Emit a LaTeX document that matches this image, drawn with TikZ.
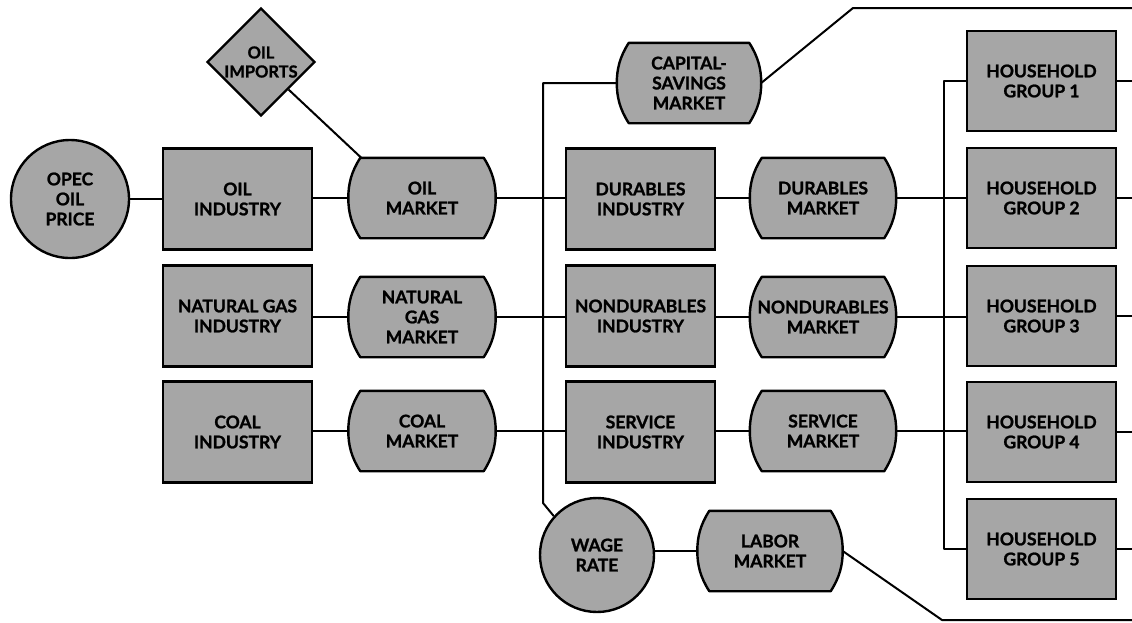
\documentclass[tikz,border=0pt]{standalone}
\usepackage{fontspec}
\setmainfont{Lato}[BoldFeatures={FakeBold=1.2}]
\usetikzlibrary{shapes.geometric,calc,backgrounds}
\newcommand\lbl{\fontsize{17.5}{20}\selectfont\bfseries}
\newcommand\lbls{\fontsize{16.5}{19}\selectfont\bfseries}
\tikzset{
  x=1pt, y=1pt,
  shfill/.style={fill=black!35},
  boxst/.style={draw, line width=2.4pt, shfill, minimum width=149pt, minimum height=101pt, align=center, font=\lbl, inner sep=0pt},
  mktst/.style={minimum width=147pt, minimum height=80pt, align=center, font=\lbl, inner sep=0pt},
  mkshape/.style={draw, line width=2.4pt, shfill, line join=round},
  circst/.style={circle, draw, line width=2.4pt, shfill, align=center, font=\lbl, inner sep=0pt},
  diast/.style={diamond, draw, line width=2.4pt, shfill, align=center, font=\lbls, inner sep=-6pt, minimum width=108pt, minimum height=108pt},
  conn/.style={line width=2pt, line join=round}
}
\newcommand\mkt[1]{%
  \path[mkshape] ($(#1.north west)+(12,0)$) -- ($(#1.north east)+(-12,0)$)
   .. controls ($(#1.north east)+(-3,-14)$) and ($(#1.east)+(0,14)$) .. (#1.east)
   .. controls ($(#1.east)+(0,-14)$) and ($(#1.south east)+(-3,14)$) .. ($(#1.south east)+(-12,0)$)
   -- ($(#1.south west)+(12,0)$)
   .. controls ($(#1.south west)+(3,14)$) and ($(#1.west)+(0,-14)$) .. (#1.west)
   .. controls ($(#1.west)+(0,14)$) and ($(#1.north west)+(3,-14)$) .. ($(#1.north west)+(12,0)$) -- cycle;}
\begin{document}
\begin{tikzpicture}
\useasboundingbox (0,0) rectangle (1132,-622);
% left part
\node[circst, minimum size=118pt] (opec) at (70,-199) {OPEC\\OIL\\PRICE};
\node[diast] (imp) at (261,-62) {OIL\\IMPORTS};
\node[boxst] (oili) at (237.5,-199) {OIL\\INDUSTRY};
\node[boxst] (ngi) at (237.5,-316) {NATURAL GAS\\INDUSTRY};
\node[boxst] (coali) at (237.5,-432) {COAL\\INDUSTRY};
\node[mktst] (oilm) at (422,-198) {OIL\\MARKET};
\node[mktst] (ngm) at (422,-317) {NATURAL\\GAS\\MARKET};
\node[mktst] (coalm) at (422,-431) {COAL\\MARKET};
% middle part
\node[mktst, minimum width=144pt] (cap) at (689,-83) {CAPITAL-\\SAVINGS\\MARKET};
\node[boxst] (dui) at (640.5,-199) {DURABLES\\INDUSTRY};
\node[boxst] (ndi) at (640.5,-316) {NONDURABLES\\INDUSTRY};
\node[boxst] (svi) at (640.5,-432) {SERVICE\\INDUSTRY};
\node[mktst, minimum width=146pt] (dum) at (823,-198) {DURABLES\\MARKET};
\node[mktst, minimum width=146pt] (ndm) at (823,-317) {NONDURABLES\\MARKET};
\node[mktst, minimum width=146pt] (svm) at (823,-431) {SERVICE\\MARKET};
\node[circst, minimum size=114pt] (wage) at (597,-555) {WAGE\\RATE};
\node[mktst, minimum width=145pt] (lab) at (770,-551) {LABOR\\MARKET};
% households
\node[boxst, minimum height=100pt] (hh1) at (1041.5,-81) {HOUSEHOLD\\GROUP 1};
\node[boxst, minimum height=100pt] (hh2) at (1041.5,-198) {HOUSEHOLD\\GROUP 2};
\node[boxst, minimum height=100pt] (hh3) at (1041.5,-316) {HOUSEHOLD\\GROUP 3};
\node[boxst, minimum height=100pt] (hh4) at (1041.5,-432) {HOUSEHOLD\\GROUP 4};
\node[boxst, minimum height=100pt] (hh5) at (1041.5,-549) {HOUSEHOLD\\GROUP 5};
% market shapes
\begin{scope}[on background layer]
\mkt{oilm}\mkt{ngm}\mkt{coalm}\mkt{cap}\mkt{dum}\mkt{ndm}\mkt{svm}\mkt{lab}
\end{scope}
% coordinates
\coordinate (oilc) at ($(oilm.north west)+(13,0)$);
\coordinate (b1) at (543,-503);
\coordinate (b2) at (944,-549);
\coordinate (c1) at (853,-8);
\coordinate (r0) at (1132,-8);
\coordinate (c2) at (942,-620);
\coordinate (r6) at (1132,-620);
\coordinate (r1) at (1132,-81);
\coordinate (r2) at (1132,-198);
\coordinate (r3) at (1132,-316);
\coordinate (r4) at (1132,-432);
\coordinate (r5) at (1132,-549);
% connectors
\draw[conn] (opec) -- (oili);
\draw[conn] (imp.south east) -- (oilc);
\draw[conn] (oili.east |- oilm.west) -- (oilm.west);
\draw[conn] (oilm.east) -- (dui.west |- oilm.east);
\draw[conn] (ngi.east |- ngm.west) -- (ngm.west);
\draw[conn] (ngm.east) -- (ndi.west |- ngm.east);
\draw[conn] (coali.east |- coalm.west) -- (coalm.west);
\draw[conn] (coalm.east) -- (svi.west |- coalm.east);
\draw[conn] (dui.east |- dum.west) -- (dum.west);
\draw[conn] (ndi.east |- ndm.west) -- (ndm.west);
\draw[conn] (svi.east |- svm.west) -- (svm.west);
\draw[conn] (dum.east) -- (hh2.west |- dum.east);
\draw[conn] (ndm.east) -- (hh3.west |- ndm.east);
\draw[conn] (svm.east) -- (hh4.west |- svm.east);
\draw[conn] (cap.west) -| (b1) -- (wage.138);
\draw[conn] (hh1.west) -| (b2) -- (hh5.west);
\draw[conn] (wage.east |- lab.west) -- (lab.west);
\draw[conn] (cap.east) -- (c1) -- (r0);
\draw[conn] (lab.east) -- (c2) -- (r6);
\draw[conn] (hh1.east) -- (r1);
\draw[conn] (hh2.east) -- (r2);
\draw[conn] (hh3.east) -- (r3);
\draw[conn] (hh4.east) -- (r4);
\draw[conn] (hh5.east) -- (r5);
\end{tikzpicture}
\end{document}
